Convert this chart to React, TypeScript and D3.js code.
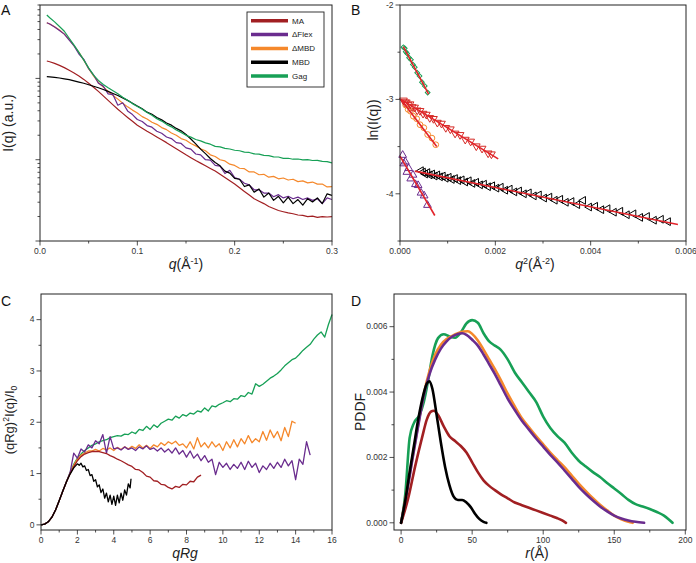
import React from "react";
import * as d3 from "d3";

// ---------------- Panel A : I(q) vs q (log) ----------------
const qA = [0.007, 0.01, 0.015, 0.02, 0.025, 0.03, 0.035, 0.04, 0.045, 0.05,
  0.055, 0.06, 0.065, 0.07, 0.075, 0.08, 0.085, 0.09, 0.095, 0.1,
  0.105, 0.11, 0.115, 0.12, 0.125, 0.13, 0.135, 0.14, 0.145, 0.15,
  0.155, 0.16, 0.165, 0.17, 0.175, 0.18, 0.185, 0.19, 0.195, 0.2,
  0.205, 0.21, 0.215, 0.22, 0.225, 0.23, 0.235, 0.24, 0.245, 0.25,
  0.255, 0.26, 0.265, 0.27, 0.275, 0.28, 0.285, 0.29, 0.295, 0.3];
// values read as log10(I)
const logI_MA = [0.214, 0.205, 0.185, 0.16, 0.133, 0.1, 0.067, 0.03, -0.012, -0.06,
  -0.108, -0.16, -0.215, -0.27, -0.325, -0.38, -0.43, -0.48, -0.528, -0.575,
  -0.612, -0.65, -0.685, -0.72, -0.755, -0.79, -0.828, -0.865, -0.903, -0.94,
  -0.975, -1.01, -1.042, -1.075, -1.107, -1.14, -1.18, -1.22, -1.26, -1.3,
  -1.345, -1.39, -1.435, -1.48, -1.51, -1.54, -1.575, -1.6, -1.625, -1.64,
  -1.655, -1.665, -1.68, -1.685, -1.7, -1.695, -1.71, -1.7, -1.705, -1.7];
const logI_Flex = [0.685, 0.67, 0.632, 0.59, 0.545, 0.47, 0.4, 0.3, 0.235, 0.12,
  0.045, -0.06, -0.095, -0.19, -0.2, -0.33, -0.3, -0.4, -0.445, -0.505,
  -0.53, -0.58, -0.6, -0.65, -0.675, -0.72, -0.74, -0.79, -0.8, -0.855,
  -0.87, -0.93, -0.94, -1.0, -1.005, -1.07, -1.08, -1.17, -1.13, -1.22,
  -1.24, -1.29, -1.31, -1.37, -1.37, -1.41, -1.41, -1.455, -1.43, -1.47,
  -1.45, -1.48, -1.46, -1.49, -1.47, -1.5, -1.48, -1.54, -1.47, -1.49];
const logI_dMBD = [0.685, 0.67, 0.635, 0.595, 0.545, 0.48, 0.4, 0.32, 0.225, 0.12,
  0.03, -0.05, -0.105, -0.16, -0.21, -0.255, -0.305, -0.35, -0.39, -0.425,
  -0.47, -0.5, -0.54, -0.565, -0.605, -0.63, -0.672, -0.7, -0.74, -0.76,
  -0.8, -0.83, -0.865, -0.89, -0.94, -0.96, -1.0, -1.015, -1.055, -1.07,
  -1.105, -1.11, -1.15, -1.15, -1.185, -1.18, -1.215, -1.205, -1.235, -1.225,
  -1.25, -1.24, -1.27, -1.26, -1.285, -1.275, -1.3, -1.3, -1.335, -1.33];
const logI_MBD = [0.021, 0.019, 0.013, 0.005, -0.005, -0.015, -0.03, -0.045, -0.06, -0.078,
  -0.096, -0.115, -0.137, -0.16, -0.185, -0.21, -0.24, -0.27, -0.305, -0.34,
  -0.372, -0.415, -0.44, -0.48, -0.51, -0.548, -0.575, -0.615, -0.645, -0.69,
  -0.745, -0.805, -0.87, -0.925, -0.985, -1.035, -1.075, -1.14, -1.165, -1.23,
  -1.24, -1.33, -1.31, -1.4, -1.36, -1.46, -1.41, -1.5, -1.45, -1.53,
  -1.46, -1.54, -1.49, -1.56, -1.48, -1.52, -1.47, -1.54, -1.42, -1.44];
const logI_Gag = [0.78, 0.747, 0.695, 0.638, 0.58, 0.494, 0.41, 0.32, 0.225, 0.13,
  0.04, -0.025, -0.075, -0.115, -0.152, -0.19, -0.232, -0.27, -0.31, -0.345,
  -0.378, -0.42, -0.452, -0.495, -0.525, -0.565, -0.596, -0.635, -0.664, -0.7,
  -0.722, -0.751, -0.768, -0.793, -0.809, -0.836, -0.843, -0.861, -0.868, -0.884,
  -0.89, -0.907, -0.911, -0.928, -0.931, -0.946, -0.95, -0.965, -0.967, -0.983,
  -0.982, -0.994, -0.991, -1.002, -0.998, -1.01, -1.008, -1.021, -1.024, -1.04];

// ---------------- Panel B : Guinier ----------------
const q2_Gag = [0.00007, 0.0001, 0.00012, 0.00015, 0.00019, 0.00023, 0.00027, 0.00031, 0.00036, 0.00041, 0.00046, 0.00052, 0.00058];
const ln_Gag = [-2.447, -2.458, -2.496, -2.513, -2.558, -2.58, -2.631, -2.66, -2.718, -2.752, -2.817, -2.858, -2.928];
const q2_dMBD = [0.00012, 0.00017, 0.00022, 0.00028, 0.00035, 0.00042, 0.0005, 0.00058, 0.00067, 0.00075];
const ln_dMBD = [-3.06, -3.105, -3.125, -3.178, -3.205, -3.268, -3.3, -3.372, -3.41, -3.48];
const q2_MA = [0.000072, 0.0001, 0.000132, 0.000169, 0.00021, 0.000256, 0.000306, 0.000361, 0.00042, 0.000484,
  0.000552, 0.000625, 0.000702, 0.000784, 0.00087, 0.000961, 0.001056, 0.001156, 0.00126, 0.001369,
  0.001482, 0.0016, 0.001722, 0.001849, 0.001918];
const ln_MA = [-3.01, -3.03, -3.03, -3.055, -3.05, -3.08, -3.085, -3.115, -3.12, -3.15,
  -3.16, -3.195, -3.205, -3.245, -3.255, -3.3, -3.315, -3.36, -3.375, -3.425,
  -3.445, -3.495, -3.52, -3.57, -3.58];
const q2_Flex = [0.000056, 0.000081, 0.00011, 0.000144, 0.000182, 0.000225, 0.000272, 0.000324, 0.00038, 0.000441, 0.000506, 0.000576];
const ln_Flex = [-3.59, -3.68, -3.66, -3.77, -3.73, -3.84, -3.8, -3.9, -3.91, -3.99, -4.02, -4.12];
const q2_MBD = [0.000441, 0.000484, 0.000529, 0.000576, 0.000625, 0.000676, 0.000729, 0.000784, 0.000841, 0.0009,
  0.000961, 0.001024, 0.001089, 0.001156, 0.001225, 0.001296, 0.001369, 0.001444, 0.001521, 0.0016,
  0.001681, 0.001764, 0.001849, 0.001936, 0.002025, 0.002116, 0.002209, 0.002304, 0.002401, 0.0025,
  0.002601, 0.002704, 0.002809, 0.002916, 0.003025, 0.003136, 0.003249, 0.003364, 0.003481, 0.0036,
  0.003721, 0.003844, 0.003969, 0.004096, 0.004225, 0.004356, 0.004489, 0.004624, 0.004761, 0.0049,
  0.005041, 0.005184, 0.005329, 0.005476, 0.005625];
const ln_MBD = [-3.755, -3.77, -3.79, -3.775, -3.8, -3.79, -3.812, -3.8, -3.82, -3.812,
  -3.835, -3.825, -3.848, -3.838, -3.86, -3.852, -3.875, -3.862, -3.89, -3.878,
  -3.905, -3.898, -3.925, -3.915, -3.94, -3.93, -3.962, -3.95, -3.98, -3.97,
  -4.0, -3.99, -4.022, -4.012, -4.045, -4.035, -4.068, -4.058, -4.09, -4.082,
  -4.115, -4.07, -4.14, -4.132, -4.168, -4.158, -4.195, -4.185, -4.222, -4.212,
  -4.25, -4.24, -4.28, -4.27, -4.295];
// linear fits (end points)
const fitGag_q2 = [0.00007, 0.0006];
const fitGag_ln = [-2.44, -2.945];
const fitDMBD_q2 = [0.00002, 0.00077];
const fitDMBD_ln = [-3.0, -3.5];
const fitMA_q2 = [0.00002, 0.00206];
const fitMA_ln = [-3.0, -3.63];
const fitFlex_q2 = [0.0, 0.00073];
const fitFlex_ln = [-3.6, -4.23];
const fitMBD_q2 = [0.00031, 0.00583];
const fitMBD_ln = [-3.76, -4.325];

// ---------------- Panel C : dimensionless Kratky ----------------
const qRgGrid = [0, 0.2, 0.4, 0.6, 0.8, 1, 1.2, 1.4, 1.6, 1.8, 2, 2.2, 2.4, 2.6, 2.8, 3, 3.2, 3.4, 3.6, 3.8,
  4, 4.2, 4.4, 4.6, 4.8, 5, 5.2, 5.4, 5.6, 5.8, 6, 6.2, 6.4, 6.6, 6.8, 7, 7.2, 7.4, 7.6, 7.8,
  8, 8.2, 8.4, 8.6, 8.8, 9, 9.2, 9.4, 9.6, 9.8, 10, 10.2, 10.4, 10.6, 10.8, 11, 11.2, 11.4, 11.6, 11.8,
  12, 12.2, 12.4, 12.6, 12.8, 13, 13.2, 13.4, 13.6, 13.8, 14, 14.2, 14.4, 14.6, 14.8, 15, 15.2, 15.4, 15.6, 15.8, 16];
const kr_MA = [0, 0.015, 0.06, 0.15, 0.29, 0.47, 0.66, 0.84,
  1.0, 1.13, 1.25, 1.33, 1.38, 1.41, 1.43, 1.43, 1.43, 1.41,
  1.39, 1.35, 1.32, 1.28, 1.25, 1.21, 1.17, 1.14, 1.08, 1.07,
  1.02, 0.95, 0.93, 0.86, 0.85, 0.79, 0.78, 0.73, 0.7, 0.75,
  0.73, 0.79, 0.78, 0.85, 0.84, 0.93, 0.97];
const kr_Flex = [0, 0.015, 0.06, 0.15, 0.29, 0.47, 0.66, 0.84,
  1.02, 1.4, 1.3, 1.48, 1.42, 1.56, 1.5, 1.64, 1.58, 1.76,
  1.4, 1.72, 1.48, 1.5, 1.46, 1.52, 1.47, 1.5, 1.45, 1.52,
  1.48, 1.54, 1.47, 1.5, 1.44, 1.5, 1.42, 1.48, 1.4, 1.5,
  1.38, 1.45, 1.32, 1.44, 1.3, 1.38, 1.25, 1.35, 1.22, 1.28,
  0.98, 1.22, 1.12, 1.2, 1.08, 1.18, 1.1, 1.22, 1.08, 1.24,
  1.12, 1.2, 1.02, 1.15, 1.08, 1.2, 1.1, 1.22, 1.12, 1.28,
  1.15, 1.25, 0.88, 1.28, 1.18, 1.62, 1.36];
const kr_dMBD = [0, 0.015, 0.06, 0.15, 0.29, 0.47, 0.66, 0.84,
  1.0, 1.16, 1.28, 1.36, 1.4, 1.44, 1.44, 1.47, 1.44, 1.49,
  1.46, 1.5, 1.45, 1.51, 1.47, 1.52, 1.48, 1.53, 1.49, 1.56,
  1.5, 1.55, 1.49, 1.56, 1.52, 1.6, 1.55, 1.62, 1.58, 1.63,
  1.55, 1.58, 1.5, 1.62, 1.48, 1.7, 1.52, 1.6, 1.5, 1.62,
  1.52, 1.58, 1.45, 1.62, 1.5, 1.66, 1.52, 1.68, 1.58, 1.74,
  1.6, 1.68, 1.62, 1.82, 1.65, 1.85, 1.7, 1.82, 1.64, 1.9,
  1.72, 2.02, 1.98];
const qRg_MBD = [0, 0.2, 0.4, 0.6, 0.8, 1, 1.2, 1.4, 1.6, 1.8, 1.9, 2, 2.1, 2.2, 2.3, 2.4, 2.5, 2.6, 2.7, 2.8,
  2.9, 3, 3.1, 3.2, 3.3, 3.4, 3.5, 3.6, 3.7, 3.8, 3.9, 4, 4.1, 4.2, 4.3, 4.4, 4.5, 4.6, 4.7, 4.8, 4.9, 4.95];
const kr_MBD = [0, 0.015, 0.06, 0.15, 0.29, 0.47, 0.66, 0.84, 0.99, 1.11,
  1.15, 1.19, 1.16, 1.2, 1.13, 1.15, 1.06, 1.08, 0.96, 0.98,
  0.85, 0.88, 0.74, 0.78, 0.63, 0.7, 0.52, 0.62, 0.45, 0.58,
  0.4, 0.56, 0.38, 0.58, 0.43, 0.62, 0.48, 0.68, 0.58, 0.8,
  0.72, 0.9];
const kr_Gag = [0, 0.015, 0.06, 0.15, 0.29, 0.47, 0.66, 0.84,
  1.02, 1.18, 1.3, 1.38, 1.45, 1.5, 1.55, 1.58, 1.62, 1.64,
  1.66, 1.7, 1.72, 1.74, 1.73, 1.77, 1.76, 1.81, 1.78, 1.86,
  1.84, 1.92, 1.86, 1.95, 1.9, 1.98, 2.02, 2.06, 2.04, 2.12,
  2.08, 2.15, 2.12, 2.18, 2.16, 2.22, 2.2, 2.28, 2.22, 2.32,
  2.3, 2.35, 2.38, 2.42, 2.4, 2.46, 2.45, 2.52, 2.5, 2.58,
  2.55, 2.75, 2.7, 2.74, 2.8, 2.86, 2.9, 2.95, 3.02, 3.1,
  3.16, 3.22, 3.25, 3.32, 3.4, 3.46, 3.52, 3.62, 3.7, 3.76,
  3.66, 3.9, 4.1];

// ---------------- Panel D : PDDF ----------------
const r_MA = [0, 5, 10, 15, 18, 21, 23, 26, 30, 34, 38, 42, 46, 50, 54, 58, 62, 66, 70, 75, 80, 85, 90, 95, 100, 105, 110, 113, 116];
const p_MA = [0, 0.00075, 0.00175, 0.00265, 0.00315, 0.0034, 0.00343, 0.0033, 0.00295, 0.00265, 0.0025, 0.00235, 0.00215, 0.00185, 0.00155,
  0.0013, 0.00113, 0.001, 0.00088, 0.00075, 0.00062, 0.00054, 0.00046, 0.00038, 0.0003, 0.00022, 0.00014, 0.00008, 0];
const r_Flex = [0, 4, 8, 12, 16, 20, 24, 28, 32, 36, 40, 43, 46, 50, 54, 58, 62, 66, 70, 75, 80, 85, 90, 95, 100, 105, 110, 115, 120,
  125, 130, 135, 140, 145, 150, 155, 160, 165, 171];
const p_Flex = [0, 0.0009, 0.00195, 0.00295, 0.0039, 0.00455, 0.005, 0.00533, 0.00555, 0.0057, 0.00578, 0.0058, 0.00575, 0.0056, 0.00542,
  0.00515, 0.00485, 0.00455, 0.00422, 0.0038, 0.00345, 0.00312, 0.00285, 0.00258, 0.00233, 0.00208, 0.00185, 0.0016, 0.00135,
  0.0011, 0.00088, 0.00068, 0.0005, 0.00035, 0.00022, 0.00013, 0.00007, 0.00003, 0];
const r_dMBD = [0, 4, 8, 12, 16, 20, 24, 28, 32, 36, 40, 44, 47, 50, 54, 58, 62, 66, 70, 75, 80, 85, 90, 95, 100, 105, 110, 115, 120,
  125, 130, 135, 140, 145, 150, 155, 160, 163];
const p_dMBD = [0, 0.00095, 0.002, 0.003, 0.00395, 0.00465, 0.00515, 0.00545, 0.00562, 0.00572, 0.0058, 0.00585, 0.00586, 0.00578, 0.00558,
  0.0053, 0.005, 0.0047, 0.00438, 0.00395, 0.00356, 0.0032, 0.00292, 0.00265, 0.0024, 0.00215, 0.00192, 0.0017, 0.00145,
  0.0012, 0.00097, 0.00075, 0.00055, 0.00038, 0.00022, 0.00011, 0.00003, 0];
const r_MBD = [0, 3, 6, 9, 12, 15, 18, 20, 22, 25, 28, 31, 34, 37, 40, 43, 46, 49, 52, 55, 58, 60];
const p_MBD = [0, 0.0007, 0.00155, 0.00235, 0.00315, 0.0038, 0.00425, 0.00433, 0.0041, 0.0033, 0.00245, 0.0017, 0.00115, 0.0008, 0.0007,
  0.0007, 0.00062, 0.00048, 0.00028, 0.00012, 0.00003, 0];
const r_Gag = [0, 3, 6, 9, 13, 16, 19, 22, 26, 30, 34, 38, 42, 46, 50, 54, 58, 62, 66, 70, 75, 80, 85, 90, 95, 100, 105, 110, 115, 120,
  125, 130, 135, 140, 145, 150, 155, 160, 165, 170, 175, 180, 185, 188, 191];
const p_Gag = [0, 0.0009, 0.0026, 0.00305, 0.0033, 0.0037, 0.00435, 0.0051, 0.00565, 0.00577, 0.0057, 0.00566, 0.00582, 0.0061, 0.0062,
  0.00612, 0.0058, 0.00555, 0.00542, 0.0053, 0.005, 0.0046, 0.0043, 0.004, 0.0037, 0.00325, 0.0029, 0.00265, 0.00245, 0.00215,
  0.0019, 0.00172, 0.00155, 0.0014, 0.00122, 0.00105, 0.00088, 0.0007, 0.00057, 0.0005, 0.00042, 0.00033, 0.00022, 0.00012, 0];

// ---------------- legend / styling ----------------
const legendNames = ["MA", "\u0394Flex", "\u0394MBD", "MBD", "Gag"];
const C_MA = "#a11f22";
const C_FLEX = "#6a2c8e";
const C_DMBD = "#f5882b";
const C_MBD = "#000000";
const C_GAG = "#17a056";
const C_FIT = "#e3232a";
const C_MA_B = "#d52a25";
const legendColors = [C_MA, C_FLEX, C_DMBD, C_MBD, C_GAG];

const FONT = "'Liberation Sans', Arial, Helvetica, sans-serif";
const AX = "#222";
const TICK_FS = 8.5;

type Box = { l: number; r: number; t: number; b: number };
const boxA: Box = { l: 40, r: 332, t: 5, b: 241 };
const boxB: Box = { l: 400, r: 686, t: 5, b: 241 };
const boxC: Box = { l: 41, r: 332, t: 294, b: 530 };
const boxD: Box = { l: 394, r: 686, t: 294, b: 530 };

function zip(xs: number[], ys: number[]): [number, number][] {
  return ys.map((y, i) => [xs[i], y] as [number, number]);
}

function Frame({ box }: { box: Box }) {
  return (
    <rect x={box.l} y={box.t} width={box.r - box.l} height={box.b - box.t}
      fill="none" stroke={AX} strokeWidth={1} />
  );
}

function XAxis({ box, scale, major, minor, fmt }: any) {
  return (
    <g>
      {minor.map((v: number) => (
        <line key={"m" + v} x1={scale(v)} x2={scale(v)} y1={box.b} y2={box.b + 2.5} stroke={AX} strokeWidth={0.8} />
      ))}
      {major.map((v: number) => (
        <g key={"M" + v}>
          <line x1={scale(v)} x2={scale(v)} y1={box.b} y2={box.b + 4.5} stroke={AX} strokeWidth={0.8} />
          {fmt && (
            <text x={scale(v)} y={box.b + 13} textAnchor="middle" fontSize={TICK_FS} fill="#333">{fmt(v)}</text>
          )}
        </g>
      ))}
    </g>
  );
}

function YAxis({ box, scale, major, minor, fmt }: any) {
  return (
    <g>
      {minor.map((v: number) => (
        <line key={"m" + v} x1={box.l - 2.5} x2={box.l} y1={scale(v)} y2={scale(v)} stroke={AX} strokeWidth={0.8} />
      ))}
      {major.map((v: number) => (
        <g key={"M" + v}>
          <line x1={box.l - 4.5} x2={box.l} y1={scale(v)} y2={scale(v)} stroke={AX} strokeWidth={0.8} />
          {fmt && (
            <text x={box.l - 6.5} y={scale(v)} dy="0.33em" textAnchor="end" fontSize={TICK_FS} fill="#333">{fmt(v)}</text>
          )}
        </g>
      ))}
    </g>
  );
}

function PanelA() {
  const x = d3.scaleLinear().domain([0, 0.3]).range([boxA.l, boxA.r]);
  const y = d3.scaleLog().domain([0.01, 8]).range([boxA.b, boxA.t]);
  const line = d3.line<[number, number]>().x((d) => x(d[0])).y((d) => y(Math.pow(10, d[1])));
  const series: [number[], string][] = [
    [logI_MA, C_MA], [logI_dMBD, C_DMBD], [logI_Flex, C_FLEX], [logI_MBD, C_MBD], [logI_Gag, C_GAG],
  ];
  const minorY: number[] = [];
  [0.01, 0.1, 1].forEach((dec) => {
    for (let k = 2; k <= 9; k++) if (dec * k <= 8) minorY.push(dec * k);
  });
  const lx = 251, lx2 = 288, ly0 = 20.8, lstep = 13.8;
  return (
    <g>
      <g clipPath="url(#clipA)">
        {series.map(([s, c], i) => (
          <path key={i} d={line(zip(qA, s)) || ""} fill="none" stroke={c} strokeWidth={1.2} strokeLinejoin="round" />
        ))}
      </g>
      <Frame box={boxA} />
      <XAxis box={boxA} scale={x} major={[0, 0.1, 0.2, 0.3]} minor={[0.05, 0.15, 0.25]} fmt={(v: number) => v.toFixed(1)} />
      <YAxis box={boxA} scale={y} major={[0.01, 0.1, 1]} minor={minorY} />
      <rect x={247} y={12} width={77} height={75} fill="#fff" stroke={AX} strokeWidth={0.9} />
      {legendNames.map((n, i) => (
        <g key={n}>
          <line x1={lx} x2={lx2} y1={ly0 + i * lstep} y2={ly0 + i * lstep} stroke={legendColors[i]} strokeWidth={3.5} />
          <text x={292} y={ly0 + i * lstep} dy="0.35em" fontSize={8} fill="#222">{n}</text>
        </g>
      ))}
      <text x={186} y={269} textAnchor="middle" fontSize={14} fill="#222">
        <tspan fontStyle="italic">q</tspan>
        <tspan>(Å</tspan>
        <tspan dy={-5} fontSize={9}>-1</tspan>
        <tspan dy={5}>)</tspan>
      </text>
      <text transform="translate(13,123) rotate(-90)" textAnchor="middle" fontSize={14} fill="#222">I(q) (a.u.)</text>
      <text x={1} y={15} fontSize={14} fill="#111">A</text>
    </g>
  );
}

function PanelB() {
  const x = d3.scaleLinear().domain([0, 0.006]).range([boxB.l, boxB.r]);
  const y = d3.scaleLinear().domain([-4.5, -2]).range([boxB.b, boxB.t]);
  const tri = d3.symbol().type(d3.symbolTriangle).size(26)() || "";
  const sq = d3.symbol().type(d3.symbolSquare).size(11)() || "";
  const circ = d3.symbol().type(d3.symbolCircle).size(26)() || "";
  const marks: [number[], number[], string, string, number][] = [
    [q2_MBD, ln_MBD, tri, C_MBD, -90],
    [q2_Flex, ln_Flex, tri, C_FLEX, 0],
    [q2_dMBD, ln_dMBD, circ, C_DMBD, 0],
    [q2_MA, ln_MA, tri, C_MA_B, 180],
    [q2_Gag, ln_Gag, sq, C_GAG, 45],
  ];
  const fits: [number[], number[]][] = [
    [fitGag_q2, fitGag_ln], [fitDMBD_q2, fitDMBD_ln], [fitMA_q2, fitMA_ln], [fitFlex_q2, fitFlex_ln], [fitMBD_q2, fitMBD_ln],
  ];
  const line = d3.line<[number, number]>().x((d) => x(d[0])).y((d) => y(d[1]));
  return (
    <g>
      {marks.map(([xs, ys, p, c, rot], i) => (
        <g key={i}>
          {ys.map((v, j) => (
            <path key={j} d={p} transform={`translate(${x(xs[j])},${y(v)}) rotate(${rot})`}
              fill="none" stroke={c} strokeWidth={1} />
          ))}
        </g>
      ))}
      {fits.map(([xs, ys], i) => (
        <path key={i} d={line(zip(xs, ys)) || ""} fill="none" stroke={C_FIT} strokeWidth={1.6} />
      ))}
      <Frame box={boxB} />
      <XAxis box={boxB} scale={x} major={[0, 0.002, 0.004, 0.006]} minor={[0.001, 0.003, 0.005]} fmt={(v: number) => v.toFixed(3)} />
      <YAxis box={boxB} scale={y} major={[-2, -3, -4]} minor={[-2.5, -3.5, -4.5]} fmt={(v: number) => String(v)} />
      <text x={535} y={269} textAnchor="middle" fontSize={14} fill="#222">
        <tspan fontStyle="italic">q</tspan>
        <tspan dy={-5} fontSize={9}>2</tspan>
        <tspan dy={5}>(Å</tspan>
        <tspan dy={-5} fontSize={9}>-2</tspan>
        <tspan dy={5}>)</tspan>
      </text>
      <text transform="translate(378,120) rotate(-90)" textAnchor="middle" fontSize={14} fill="#222">ln(I(q))</text>
      <text x={351} y={15} fontSize={14} fill="#111">B</text>
    </g>
  );
}

function PanelC() {
  const x = d3.scaleLinear().domain([0, 16]).range([boxC.l, boxC.r]);
  const y = d3.scaleLinear().domain([-0.1, 4.5]).range([boxC.b, boxC.t]);
  const line = d3.line<[number, number]>().x((d) => x(d[0])).y((d) => y(d[1]));
  const series: [number[], number[], string][] = [
    [qRgGrid, kr_Gag, C_GAG], [qRgGrid, kr_dMBD, C_DMBD], [qRgGrid, kr_Flex, C_FLEX],
    [qRgGrid, kr_MA, C_MA], [qRg_MBD, kr_MBD, C_MBD],
  ];
  return (
    <g>
      {series.map(([xs, ys, c], i) => (
        <path key={i} d={line(zip(xs, ys)) || ""} fill="none" stroke={c} strokeWidth={1.3} strokeLinejoin="round" />
      ))}
      <Frame box={boxC} />
      <XAxis box={boxC} scale={x} major={[0, 2, 4, 6, 8, 10, 12, 14, 16]} minor={[1, 3, 5, 7, 9, 11, 13, 15]} fmt={(v: number) => String(v)} />
      <YAxis box={boxC} scale={y} major={[0, 1, 2, 3, 4]} minor={[0.5, 1.5, 2.5, 3.5]} fmt={(v: number) => String(v)} />
      <text x={185} y={558} textAnchor="middle" fontSize={14} fontStyle="italic" fill="#222">qRg</text>
      <text transform="translate(14,420) rotate(-90)" textAnchor="middle" fontSize={13} fill="#222">
        <tspan>(qRg)</tspan>
        <tspan dy={-5} fontSize={8.5}>2</tspan>
        <tspan dy={5}>I(q)/I</tspan>
        <tspan dy={3} fontSize={8.5}>0</tspan>
      </text>
      <text x={1} y={306} fontSize={14} fill="#111">C</text>
    </g>
  );
}

function PanelD() {
  const x = d3.scaleLinear().domain([-5, 200.5]).range([boxD.l, boxD.r]);
  const y = d3.scaleLinear().domain([-0.00022, 0.007]).range([boxD.b, boxD.t]);
  const line = d3.line<[number, number]>().x((d) => x(d[0])).y((d) => y(d[1])).curve(d3.curveMonotoneX);
  const series: [number[], number[], string][] = [
    [r_Gag, p_Gag, C_GAG], [r_dMBD, p_dMBD, C_DMBD], [r_Flex, p_Flex, C_FLEX],
    [r_MA, p_MA, C_MA], [r_MBD, p_MBD, C_MBD],
  ];
  return (
    <g>
      {series.map(([xs, ys, c], i) => (
        <path key={i} d={line(zip(xs, ys)) || ""} fill="none" stroke={c} strokeWidth={2.6} strokeLinejoin="round" strokeLinecap="round" />
      ))}
      <Frame box={boxD} />
      <XAxis box={boxD} scale={x} major={[0, 50, 100, 150, 200]} minor={[25, 75, 125, 175]} fmt={(v: number) => String(v)} />
      <YAxis box={boxD} scale={y} major={[0, 0.002, 0.004, 0.006]} minor={[0.001, 0.003, 0.005]} fmt={(v: number) => v.toFixed(3)} />
      <text x={537} y={558} textAnchor="middle" fontSize={14} fill="#222">
        <tspan fontStyle="italic">r</tspan>
        <tspan>(Å)</tspan>
      </text>
      <text transform="translate(365,412) rotate(-90)" textAnchor="middle" fontSize={14} fill="#222">PDDF</text>
      <text x={351} y={306} fontSize={14} fill="#111">D</text>
    </g>
  );
}

export default function App() {
  return (
    <svg width={696} height={563} viewBox="0 0 696 563"
      style={{ position: "absolute", left: 0, top: 0, display: "block", background: "#fff", fontFamily: FONT }}>
      <defs>
        <clipPath id="clipA">
          <rect x={boxA.l} y={boxA.t} width={boxA.r - boxA.l} height={boxA.b - boxA.t} />
        </clipPath>
      </defs>
      <rect x={0} y={0} width={696} height={563} fill="#fff" />
      <PanelA />
      <PanelB />
      <PanelC />
      <PanelD />
    </svg>
  );
}
